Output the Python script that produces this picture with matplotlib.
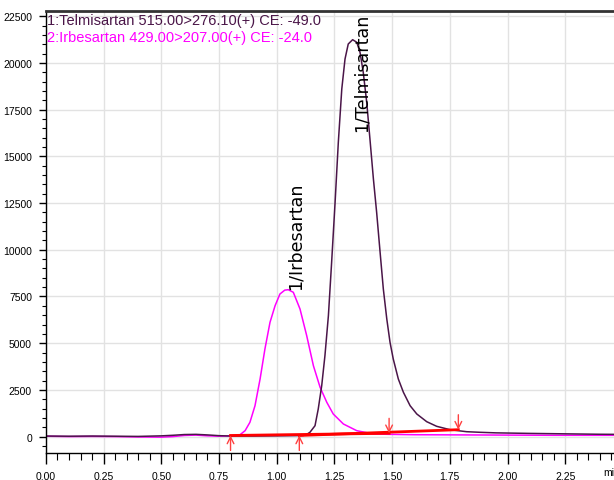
import matplotlib
matplotlib.use("Agg")
import matplotlib.pyplot as plt
from matplotlib.ticker import MultipleLocator, FormatStrFormatter

# dark trace: Telmisartan 515.00>276.10
telmi_t = [0.00, 0.10, 0.20, 0.30, 0.40, 0.50, 0.55, 0.60, 0.65, 0.70, 0.75, 0.80, 0.90, 1.00,
           1.08, 1.115, 1.130, 1.144, 1.166, 1.180, 1.195, 1.209, 1.224, 1.238, 1.253, 1.267,
           1.282, 1.296, 1.310, 1.329, 1.347, 1.361, 1.375, 1.390, 1.404, 1.419, 1.433, 1.448,
           1.462, 1.477, 1.491, 1.505, 1.527, 1.549, 1.578, 1.607, 1.650, 1.693, 1.751, 1.823,
           1.881, 1.95, 2.00, 2.10, 2.20, 2.30, 2.40, 2.47]
telmi_v = [30, 20, 30, 20, 10, 40, 70, 110, 120, 90, 50, 30, 30, 40,
           50, 60, 120, 230, 583, 1477, 2725, 4331, 6472, 9330, 12542, 15754,
           18607, 20213, 21016, 21246, 21107, 20572, 19501, 17895, 15931, 13790, 12007, 9866,
           7901, 6295, 5048, 4154, 3083, 2371, 1654, 1210, 798, 551, 369, 262,
           230, 200, 190, 170, 155, 140, 125, 120]

# magenta trace: Irbesartan 429.00>207.00
irbe_t = [0.00, 0.10, 0.20, 0.30, 0.40, 0.50, 0.55, 0.60, 0.65, 0.70, 0.75, 0.80, 0.841,
          0.863, 0.884, 0.906, 0.928, 0.949, 0.971, 0.993, 1.014, 1.035, 1.050, 1.072, 1.101,
          1.130, 1.159, 1.188, 1.217, 1.245, 1.289, 1.347, 1.419, 1.491, 1.60, 1.80,
          2.00, 2.20, 2.47]
irbe_v = [20, 0, 10, 0, -20, -30, 0, 60, 80, 40, 20, 40, 100,
          316, 765, 1654, 3083, 4689, 6118, 7007, 7633, 7840, 7864, 7724, 6830,
          5401, 3795, 2639, 1836, 1210, 674, 316, 139, 120, 100, 90,
          80, 70, 70]

# integration baselines (start, end)
irbe_base = [(0.80, 60), (1.487, 177)]
telmi_base = [(1.098, 60), (1.787, 370)]

trace_names = ["1:Telmisartan 515.00>276.10(+) CE: -49.0",
               "2:Irbesartan 429.00>207.00(+) CE: -24.0"]
peak_labels = ["1/Telmisartan", "1/Irbesartan"]

dark = "#4a1548"
mag = "#ff00ff"
sans = "Liberation Sans"

fig = plt.figure(figsize=(6.14, 4.81), dpi=100)
ax = fig.add_axes([45.9 / 614, 1 - 454 / 481, 1 - 45.9 / 614, (454 - 12) / 481])

ax.plot(irbe_t, irbe_v, color=mag, lw=1.1)
ax.plot(telmi_t, telmi_v, color=dark, lw=1.1)

for b in (irbe_base, telmi_base):
    ax.plot([b[0][0], b[1][0]], [b[0][1], b[1][1]], color="#ff0000", lw=2)
    ax.annotate("", xy=(b[0][0], b[0][1]), xytext=(b[0][0], b[0][1] - 800),
                arrowprops=dict(arrowstyle="->", color="#ff4040", lw=1, mutation_scale=12,
                                shrinkA=0, shrinkB=0))
    ax.annotate("", xy=(b[1][0], b[1][1]), xytext=(b[1][0], b[1][1] + 800),
                arrowprops=dict(arrowstyle="->", color="#ff4040", lw=1, mutation_scale=12,
                                shrinkA=0, shrinkB=0))

ax.text(1.366, 16350, peak_labels[0], rotation=90, ha="center", va="bottom",
        fontsize=12.6, color="black", family="DejaVu Sans")
ax.text(1.083, 7900, peak_labels[1], rotation=90, ha="center", va="bottom",
        fontsize=12.6, color="black", family="DejaVu Sans")

ax.text(0.002, (454 - 20.8) / 442, trace_names[0], transform=ax.transAxes, color=dark,
        fontsize=10.5, family=sans, va="center", ha="left")
ax.text(0.002, (454 - 38.3) / 442, trace_names[1], transform=ax.transAxes, color=mag,
        fontsize=10.5, family=sans, va="center", ha="left")

ax.set_xlim(0, (614 - 45.9) / 230.8)
ax.set_ylim(-878, 22782)
ax.xaxis.set_major_locator(MultipleLocator(0.25))
ax.xaxis.set_minor_locator(MultipleLocator(0.05))
ax.xaxis.set_major_formatter(FormatStrFormatter("%.2f"))
ax.yaxis.set_major_locator(MultipleLocator(2500))
ax.yaxis.set_minor_locator(MultipleLocator(500))
ax.grid(True, which="major", color="#e2e2e2", lw=1)
ax.set_axisbelow(True)
ax.tick_params(axis="y", which="major", length=5, width=1, color="black", pad=5)
ax.tick_params(axis="y", which="minor", length=3, width=0.8, color="black")
ax.tick_params(axis="x", which="major", length=8, width=1, color="black", pad=5)
ax.tick_params(axis="x", which="minor", length=5, width=0.8, color="black")
for lab in ax.get_xticklabels() + ax.get_yticklabels():
    lab.set_family(sans)
    lab.set_fontsize(7.5)

ax.spines["right"].set_visible(False)
ax.spines["top"].set_linewidth(2)
ax.spines["top"].set_color("#333333")
ax.spines["left"].set_linewidth(1)
ax.spines["bottom"].set_linewidth(1)

# axis unit sits where the 2.50 tick would be, cut by the figure edge
fig.text(603 / 614, 1 - 468 / 481, "min", ha="left", va="top",
         fontsize=7.5, family=sans)

fig.savefig("out.png", dpi=100)
